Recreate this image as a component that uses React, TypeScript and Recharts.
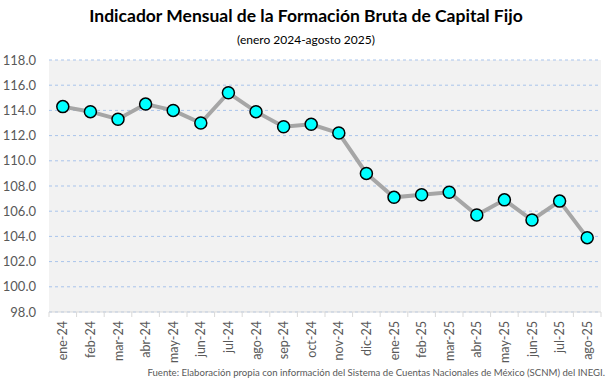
import React from 'react';
import { LineChart, Line, XAxis, YAxis, CartesianGrid } from 'recharts';

const categories = [
  'ene-24', 'feb-24', 'mar-24', 'abr-24', 'may-24', 'jun-24', 'jul-24', 'ago-24', 'sep-24', 'oct-24',
  'nov-24', 'dic-24', 'ene-25', 'feb-25', 'mar-25', 'abr-25', 'may-25', 'jun-25', 'jul-25', 'ago-25',
];
const values = [
  114.3, 113.9, 113.3, 114.5, 114.0, 113.0, 115.4, 113.9, 112.7, 112.9,
  112.2, 109.0, 107.1, 107.3, 107.5, 105.7, 106.9, 105.3, 106.8, 103.9,
];
const yTicks = [98, 100, 102, 104, 106, 108, 110, 112, 114, 116, 118];

const title = 'Indicador Mensual de la Formación Bruta de Capital Fijo';
const subtitle = '(enero 2024-agosto 2025)';
const source = 'Fuente: Elaboración propia con información del Sistema de Cuentas Nacionales de México (SCNM) del INEGI.';

const data = categories.map((c, i) => ({ cat: c, v: values[i] }));

const W = 612;
const H = 381;
const M_TOP = 60;
const M_RIGHT = 11;
const Y_W = 49;
const X_H = 69;
const FONT = 'Lato, "Open Sans", sans-serif';
const band = (W - Y_W - M_RIGHT) / categories.length;

const XTick = (props: any) => {
  const { x, y, payload, index } = props;
  return (
    <g>
      <line x1={x - band / 2} x2={x - band / 2} y1={y} y2={y + 5} stroke="#d9d9d9" />
      {index === categories.length - 1 && (
        <line x1={x + band / 2} x2={x + band / 2} y1={y} y2={y + 5} stroke="#d9d9d9" />
      )}
      <text
        x={x}
        y={y + 9}
        transform={`rotate(-90, ${x}, ${y + 9})`}
        textAnchor="end"
        dominantBaseline="central"
        fill="#595959"
        fontSize={12.5}
        fontFamily={FONT}
      >
        {payload.value}
      </text>
    </g>
  );
};

export default function App() {
  return (
    <div style={{ position: 'absolute', left: 0, top: 0, width: W, height: H, background: '#fff', fontFamily: FONT }}>
      <div style={{ position: 'absolute', left: 0, top: 5, width: W, textAlign: 'center', fontSize: 17.5, fontWeight: 700, color: '#000', whiteSpace: 'nowrap' }}>
        {title}
      </div>
      <div style={{ position: 'absolute', left: 0, top: 32, width: W, textAlign: 'center', fontSize: 12, color: '#000' }}>
        {subtitle}
      </div>
      <LineChart width={W} height={H} data={data} margin={{ top: M_TOP, right: M_RIGHT, left: 0, bottom: 0 }}>
        <CartesianGrid vertical={false} fill="#f2f2f2" stroke="#a9c4eb" strokeDasharray="3 3" />
        <XAxis
          dataKey="cat"
          height={X_H}
          interval={0}
          padding={{ left: band / 2, right: band / 2 }}
          tickLine={false}
          tickSize={0}
          tickMargin={0}
          axisLine={{ stroke: '#d9d9d9' }}
          tick={<XTick />}
        />
        <YAxis
          width={Y_W}
          domain={[98, 118]}
          ticks={yTicks}
          interval={0}
          tickLine={false}
          axisLine={false}
          tickSize={0}
          tickMargin={13}
          tickFormatter={(v: number) => v.toFixed(1)}
          tick={{ fill: '#595959', fontSize: 13, fontFamily: FONT }}
        />
        <Line
          type="linear"
          dataKey="v"
          stroke="#a6a6a6"
          strokeWidth={4}
          isAnimationActive={false}
          dot={{ r: 6, fill: '#00ffff', stroke: '#000', strokeWidth: 1.5 }}
          activeDot={false}
        />
      </LineChart>
      <div style={{ position: 'absolute', right: 7, top: 367, fontSize: 9.6, color: '#595959', whiteSpace: 'nowrap' }}>
        {source}
      </div>
    </div>
  );
}
